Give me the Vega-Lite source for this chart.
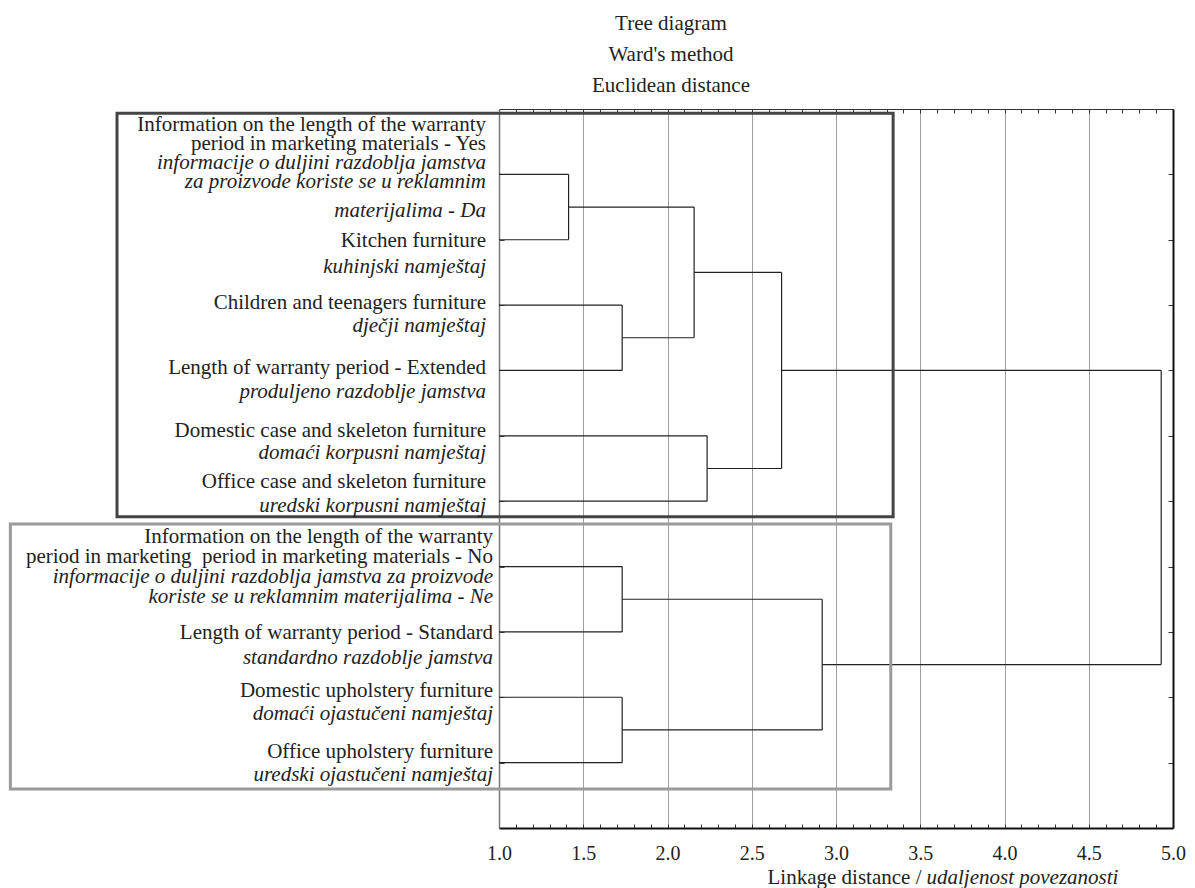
{
  "$schema": "https://vega.github.io/schema/vega-lite/v6.json",
  "width": 674,
  "height": 719,
  "autosize": {"type": "none"},
  "padding": {"left": 499, "top": 109, "right": 22, "bottom": 60},
  "title": {
    "text": ["Tree diagram", "Ward's method", "Euclidean distance"],
    "font": "Liberation Serif",
    "fontSize": 21,
    "fontWeight": "normal",
    "color": "#222222",
    "lineHeight": 31.2,
    "anchor": "middle",
    "frame": "group",
    "baseline": "bottom",
    "offset": 13,
    "dx": -165,
    "dy": 22
  },
  "config": {
    "view": {"stroke": null},
    "font": "Liberation Serif",
    "axis": {"labelFont": "Liberation Serif", "titleFont": "Liberation Serif"}
  },
  "datasets": {
    "links": [
      {"x": 1, "x2": 1.413, "y": 1, "y2": 1},
      {"x": 1, "x2": 1.413, "y": 2, "y2": 2},
      {"x": 1.413, "x2": 1.413, "y": 1, "y2": 2},
      {"x": 1, "x2": 1.731, "y": 3, "y2": 3},
      {"x": 1, "x2": 1.731, "y": 4, "y2": 4},
      {"x": 1.731, "x2": 1.731, "y": 3, "y2": 4},
      {"x": 1.413, "x2": 2.158, "y": 1.5, "y2": 1.5},
      {"x": 1.731, "x2": 2.158, "y": 3.5, "y2": 3.5},
      {"x": 2.158, "x2": 2.158, "y": 1.5, "y2": 3.5},
      {"x": 1, "x2": 2.235, "y": 5, "y2": 5},
      {"x": 1, "x2": 2.235, "y": 6, "y2": 6},
      {"x": 2.235, "x2": 2.235, "y": 5, "y2": 6},
      {"x": 2.158, "x2": 2.677, "y": 2.5, "y2": 2.5},
      {"x": 2.235, "x2": 2.677, "y": 5.5, "y2": 5.5},
      {"x": 2.677, "x2": 2.677, "y": 2.5, "y2": 5.5},
      {"x": 1, "x2": 1.731, "y": 7, "y2": 7},
      {"x": 1, "x2": 1.731, "y": 8, "y2": 8},
      {"x": 1.731, "x2": 1.731, "y": 7, "y2": 8},
      {"x": 1, "x2": 1.731, "y": 9, "y2": 9},
      {"x": 1, "x2": 1.731, "y": 10, "y2": 10},
      {"x": 1.731, "x2": 1.731, "y": 9, "y2": 10},
      {"x": 1.731, "x2": 2.918, "y": 7.5, "y2": 7.5},
      {"x": 1.731, "x2": 2.918, "y": 9.5, "y2": 9.5},
      {"x": 2.918, "x2": 2.918, "y": 7.5, "y2": 9.5},
      {"x": 2.677, "x2": 4.93, "y": 4, "y2": 4},
      {"x": 2.918, "x2": 4.93, "y": 8.5, "y2": 8.5},
      {"x": 4.93, "x2": 4.93, "y": 4, "y2": 8.5}
    ],
    "boxes": [
      {"cluster": "A", "x": -1.267, "x2": 3.339, "y": 0.066, "y2": 6.238},
      {"cluster": "B", "x": -1.9, "x2": 3.325, "y": 6.35, "y2": 10.404}
    ],
    "labels": [
      {"leaf": 1, "cluster": "A", "lang": "en", "pos": 0.344, "text": "Information on the length of the warranty"},
      {"leaf": 1, "cluster": "A", "lang": "en", "pos": 0.627, "text": "period in marketing materials - Yes"},
      {"leaf": 1, "cluster": "A", "lang": "hr", "pos": 0.918, "text": "informacije o duljini razdoblja jamstva "},
      {"leaf": 1, "cluster": "A", "lang": "hr", "pos": 1.209, "text": "za proizvode koriste se u reklamnim "},
      {"leaf": 1, "cluster": "A", "lang": "hr", "pos": 1.645, "text": "materijalima - Da"},
      {"leaf": 2, "cluster": "A", "lang": "en", "pos": 2.104, "text": "Kitchen furniture"},
      {"leaf": 2, "cluster": "A", "lang": "hr", "pos": 2.509, "text": "kuhinjski namještaj"},
      {"leaf": 3, "cluster": "A", "lang": "en", "pos": 3.06, "text": "Children and teenagers furniture"},
      {"leaf": 3, "cluster": "A", "lang": "hr", "pos": 3.407, "text": "dječji namještaj"},
      {"leaf": 4, "cluster": "A", "lang": "en", "pos": 4.06, "text": "Length of warranty period - Extended"},
      {"leaf": 4, "cluster": "A", "lang": "hr", "pos": 4.426, "text": "produljeno razdoblje jamstva"},
      {"leaf": 5, "cluster": "A", "lang": "en", "pos": 5.02, "text": "Domestic case and skeleton furniture"},
      {"leaf": 5, "cluster": "A", "lang": "hr", "pos": 5.36, "text": "domaći korpusni namještaj"},
      {"leaf": 6, "cluster": "A", "lang": "en", "pos": 5.8, "text": "Office case and skeleton furniture"},
      {"leaf": 6, "cluster": "A", "lang": "hr", "pos": 6.161, "text": "uredski korpusni namještaj"},
      {"leaf": 7, "cluster": "B", "lang": "en", "pos": 6.64, "text": "Information on the length of the warranty"},
      {"leaf": 7, "cluster": "B", "lang": "en", "pos": 6.95, "text": "period in marketing \u00a0period in marketing materials - No"},
      {"leaf": 7, "cluster": "B", "lang": "hr", "pos": 7.25, "text": "informacije o duljini razdoblja jamstva za proizvode "},
      {"leaf": 7, "cluster": "B", "lang": "hr", "pos": 7.563, "text": "koriste se u reklamnim materijalima - Ne"},
      {"leaf": 8, "cluster": "B", "lang": "en", "pos": 8.109, "text": "Length of warranty period - Standard"},
      {"leaf": 8, "cluster": "B", "lang": "hr", "pos": 8.491, "text": "standardno razdoblje jamstva"},
      {"leaf": 9, "cluster": "B", "lang": "en", "pos": 8.992, "text": "Domestic upholstery furniture"},
      {"leaf": 9, "cluster": "B", "lang": "hr", "pos": 9.348, "text": "domaći ojastučeni namještaj"},
      {"leaf": 10, "cluster": "B", "lang": "en", "pos": 9.925, "text": "Office upholstery furniture"},
      {"leaf": 10, "cluster": "B", "lang": "hr", "pos": 10.277, "text": "uredski ojastučeni namještaj"}
    ]
  },
  "layer": [
    {
      "data": {"name": "links"},
      "mark": {"type": "rule", "color": "#222222", "strokeWidth": 1.2},
      "encoding": {
        "x": {
          "field": "x", "type": "quantitative",
          "scale": {"domain": [1, 5], "nice": false, "zero": false},
          "axis": {
            "orient": "bottom",
            "values": [1.0, 1.1, 1.2, 1.3, 1.4, 1.5, 1.6, 1.7, 1.8, 1.9, 2.0, 2.1, 2.2, 2.3, 2.4, 2.5, 2.6, 2.7, 2.8, 2.9, 3.0, 3.1, 3.2, 3.3, 3.4, 3.5, 3.6, 3.7, 3.8, 3.9, 4.0, 4.1, 4.2, 4.3, 4.4, 4.5, 4.6, 4.7, 4.8, 4.9, 5.0],
            "labelExpr": "abs(datum.value*2 - round(datum.value*2)) < 0.01 ? format(datum.value, '.1f') : ''",
            "labelOverlap": false,
            "labelFlush": false,
            "labelFontSize": 20,
            "labelColor": "#222222",
            "labelBaseline": "alphabetic",
            "labelPadding": 35,
            "tickSize": -4,
            "tickColor": "#333333",
            "domainColor": "#111111",
            "domainWidth": 2,
            "grid": true,
            "gridColor": "#a0a0a0",
            "gridWidth": 1,
            "gridOpacity": {"condition": {"test": "abs(datum.value*2 - round(datum.value*2)) < 0.01 && datum.value > 1.01 && datum.value < 4.99", "value": 1}, "value": 0},
            "title": "Linkage distance /",
            "titleFontSize": 21,
            "titleFontWeight": "normal",
            "titleColor": "#222222",
            "titleX": 422,
            "titleY": 55,
            "titleAlign": "right",
            "titleBaseline": "alphabetic"
          }
        },
        "x2": {"field": "x2"},
        "y": {
          "field": "y", "type": "quantitative",
          "scale": {"domain": [0, 11], "nice": false, "zero": false, "reverse": true},
          "axis": {
            "orient": "left",
            "values": [1, 2, 3, 4, 5, 6, 7, 8, 9, 10],
            "labels": false,
            "tickSize": -5,
            "tickColor": "#444444",
            "domainColor": "#777777",
            "domainWidth": 1.5,
            "grid": false,
            "title": null
          }
        },
        "y2": {"field": "y2"}
      }
    },
    {
      "data": {"name": "boxes"},
      "mark": {"type": "rect", "fill": null, "fillOpacity": 0, "strokeWidth": 3},
      "encoding": {
        "x": {
          "field": "x", "type": "quantitative",
          "scale": {"domain": [1, 5], "nice": false, "zero": false},
          "axis": {
            "orient": "top",
            "values": [1.0, 1.1, 1.2, 1.3, 1.4, 1.5, 1.6, 1.7, 1.8, 1.9, 2.0, 2.1, 2.2, 2.3, 2.4, 2.5, 2.6, 2.7, 2.8, 2.9, 3.0, 3.1, 3.2, 3.3, 3.4, 3.5, 3.6, 3.7, 3.8, 3.9, 4.0, 4.1, 4.2, 4.3, 4.4, 4.5, 4.6, 4.7, 4.8, 4.9, 5.0],
            "labels": false,
            "tickSize": -4,
            "tickColor": "#333333",
            "domainColor": "#333333",
            "domainWidth": 1.2,
            "grid": false,
            "title": "udaljenost povezanosti",
            "titleFontSize": 21,
            "titleFontWeight": "normal",
            "titleFontStyle": "italic",
            "titleColor": "#222222",
            "titleX": 427,
            "titleY": 774,
            "titleAlign": "left",
            "titleBaseline": "alphabetic"
          }
        },
        "x2": {"field": "x2"},
        "y": {
          "field": "y", "type": "quantitative",
          "scale": {"domain": [0, 11], "nice": false, "zero": false, "reverse": true},
          "axis": {
            "orient": "right",
            "values": [1, 2, 3, 4, 5, 6, 7, 8, 9, 10],
            "labels": false,
            "tickSize": -5,
            "tickColor": "#333333",
            "domainColor": "#111111",
            "domainWidth": 2,
            "grid": false,
            "title": null
          }
        },
        "y2": {"field": "y2"},
        "stroke": {
          "field": "cluster", "type": "nominal",
          "scale": {"domain": ["A", "B"], "range": ["#444444", "#9a9a9a"]},
          "legend": null
        }
      }
    },
    {
      "data": {"name": "labels"},
      "transform": [{"filter": "datum.cluster === 'A' && datum.lang === 'en'"}],
      "mark": {"type": "text", "align": "right", "baseline": "alphabetic", "dx": -13, "fontSize": 21, "font": "Liberation Serif", "color": "#222222"},
      "encoding": {
        "x": {"datum": 1, "type": "quantitative", "scale": {"domain": [1, 5], "nice": false, "zero": false}, "axis": null},
        "y": {"field": "pos", "type": "quantitative", "scale": {"domain": [0, 11], "nice": false, "zero": false, "reverse": true}, "axis": null},
        "text": {"field": "text"}
      }
    },
    {
      "data": {"name": "labels"},
      "transform": [{"filter": "datum.cluster === 'A' && datum.lang === 'hr'"}],
      "mark": {"type": "text", "align": "right", "baseline": "alphabetic", "dx": -13, "fontSize": 21, "font": "Liberation Serif", "fontStyle": "italic", "color": "#222222"},
      "encoding": {
        "x": {"datum": 1, "type": "quantitative", "scale": {"domain": [1, 5], "nice": false, "zero": false}, "axis": null},
        "y": {"field": "pos", "type": "quantitative", "scale": {"domain": [0, 11], "nice": false, "zero": false, "reverse": true}, "axis": null},
        "text": {"field": "text"}
      }
    },
    {
      "data": {"name": "labels"},
      "transform": [{"filter": "datum.cluster === 'B' && datum.lang === 'en'"}],
      "mark": {"type": "text", "align": "right", "baseline": "alphabetic", "dx": -6, "fontSize": 21, "font": "Liberation Serif", "color": "#222222"},
      "encoding": {
        "x": {"datum": 1, "type": "quantitative", "scale": {"domain": [1, 5], "nice": false, "zero": false}, "axis": null},
        "y": {"field": "pos", "type": "quantitative", "scale": {"domain": [0, 11], "nice": false, "zero": false, "reverse": true}, "axis": null},
        "text": {"field": "text"}
      }
    },
    {
      "data": {"name": "labels"},
      "transform": [{"filter": "datum.cluster === 'B' && datum.lang === 'hr'"}],
      "mark": {"type": "text", "align": "right", "baseline": "alphabetic", "dx": -6, "fontSize": 21, "font": "Liberation Serif", "fontStyle": "italic", "color": "#222222"},
      "encoding": {
        "x": {"datum": 1, "type": "quantitative", "scale": {"domain": [1, 5], "nice": false, "zero": false}, "axis": null},
        "y": {"field": "pos", "type": "quantitative", "scale": {"domain": [0, 11], "nice": false, "zero": false, "reverse": true}, "axis": null},
        "text": {"field": "text"}
      }
    }
  ],
  "resolve": {"axis": {"x": "independent", "y": "independent"}}
}
